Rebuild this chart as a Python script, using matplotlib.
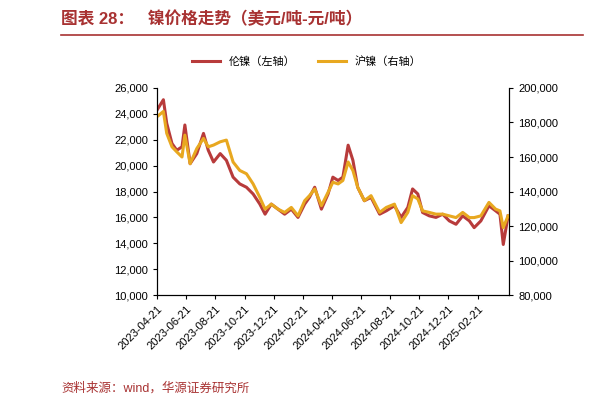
import numpy as np
import pandas as pd
import matplotlib.pyplot as plt
import matplotlib.dates as mdates

plt.rcParams['font.family'] = ['Liberation Sans', 'Noto Sans CJK SC', 'DejaVu Sans']

# days since 2023-04-21
days = [0, 13, 20, 31, 41, 52, 58, 69, 83, 97, 107, 118, 132, 145, 159, 173, 187, 201, 215, 226,
        239, 253, 267, 281, 295, 309, 319, 330, 344, 358, 368, 379, 389, 400, 410, 420, 434, 448,
        466, 480, 497, 511, 525, 535, 546, 556, 570, 584, 598, 612, 626, 640, 654, 664, 678, 695,
        709, 718, 725, 735]
lme = [24310, 25090, 23270, 21710, 21190, 21450, 23140, 20150, 20930, 22490, 21190, 20280, 20930,
       20410, 19110, 18590, 18330, 17810, 17030, 16250, 17030, 16640, 16250, 16640, 16000, 17030,
       17550, 18330, 16640, 17810, 19110, 18850, 19110, 21580, 20410, 18330, 17290, 17550, 16250,
       16510, 16900, 16000, 16770, 18200, 17810, 16380, 16120, 16000, 16250, 15730, 15470, 16120,
       15730, 15210, 15730, 16900, 16510, 16250, 13910, 16120]
shfe = [183400, 186400, 173700, 165900, 163000, 160000, 172700, 156100, 164900, 170800, 165900,
        166900, 168800, 169800, 157100, 152200, 150300, 144400, 136600, 129800, 132700, 129800,
        127900, 130800, 125900, 134700, 137600, 141500, 131800, 139600, 145400, 144400, 146400,
        157100, 152200, 142500, 134700, 137600, 127900, 130800, 132700, 122000, 127900, 137600,
        135700, 128800, 127900, 126900, 126900, 125900, 124900, 127900, 124900, 124900, 125900,
        133700, 129800, 128800, 119100, 125900]
tick_dates = ['2023-04-21', '2023-06-21', '2023-08-21', '2023-10-21', '2023-12-21', '2024-02-21',
              '2024-04-21', '2024-06-21', '2024-08-21', '2024-10-21', '2024-12-21', '2025-02-21']

start = pd.Timestamp('2023-04-21')
dates = [start + pd.Timedelta(days=d) for d in days]
ticks = pd.to_datetime(tick_dates)

fig = plt.figure(figsize=(6.14, 4.11), dpi=100)
ax = fig.add_axes([0.256, 0.282, 0.573, 0.504])
ax2 = ax.twinx()

red = '#B83B3B'
gold = '#E8A820'
l1, = ax.plot(dates, lme, color=red, lw=2.2, label='伦镍（左轴）')
l2, = ax2.plot(dates, shfe, color=gold, lw=2.2, label='沪镍（右轴）')

ax.set_ylim(10000, 26000)
ax.set_yticks(range(10000, 26001, 2000))
ax2.set_ylim(80000, 200000)
ax2.set_yticks(range(80000, 200001, 20000))
ax.yaxis.set_major_formatter(plt.FuncFormatter(lambda v, p: f'{int(v):,}'))
ax2.yaxis.set_major_formatter(plt.FuncFormatter(lambda v, p: f'{int(v):,}'))
ax.set_xlim(start, start + pd.Timedelta(days=737))
ax.set_xticks(ticks)
ax.xaxis.set_major_formatter(mdates.DateFormatter('%Y-%m-%d'))
for lab in ax.get_xticklabels():
    lab.set_rotation(45)
    lab.set_ha('right')
    lab.set_rotation_mode('anchor')
for a in (ax, ax2):
    a.tick_params(labelsize=8, direction='out', length=3)
    a.spines['top'].set_visible(False)

fig.legend(handles=[l1, l2], loc='center', bbox_to_anchor=(0.5, 0.85), ncol=2,
           frameon=False, fontsize=8, handlelength=2.5)

fig.text(0.1, 0.955, '图表 28：   镍价格走势（美元/吨-元/吨）', fontsize=12, fontweight='bold',
         color='#A83232', va='center')
fig.add_artist(plt.Line2D([0.1, 0.95], [0.915, 0.915], color='#A83232', lw=1.2))
fig.text(0.1, 0.055, '资料来源：wind，华源证券研究所', fontsize=9, color='#A83232', va='center')

fig.savefig('out.png', dpi=100)
